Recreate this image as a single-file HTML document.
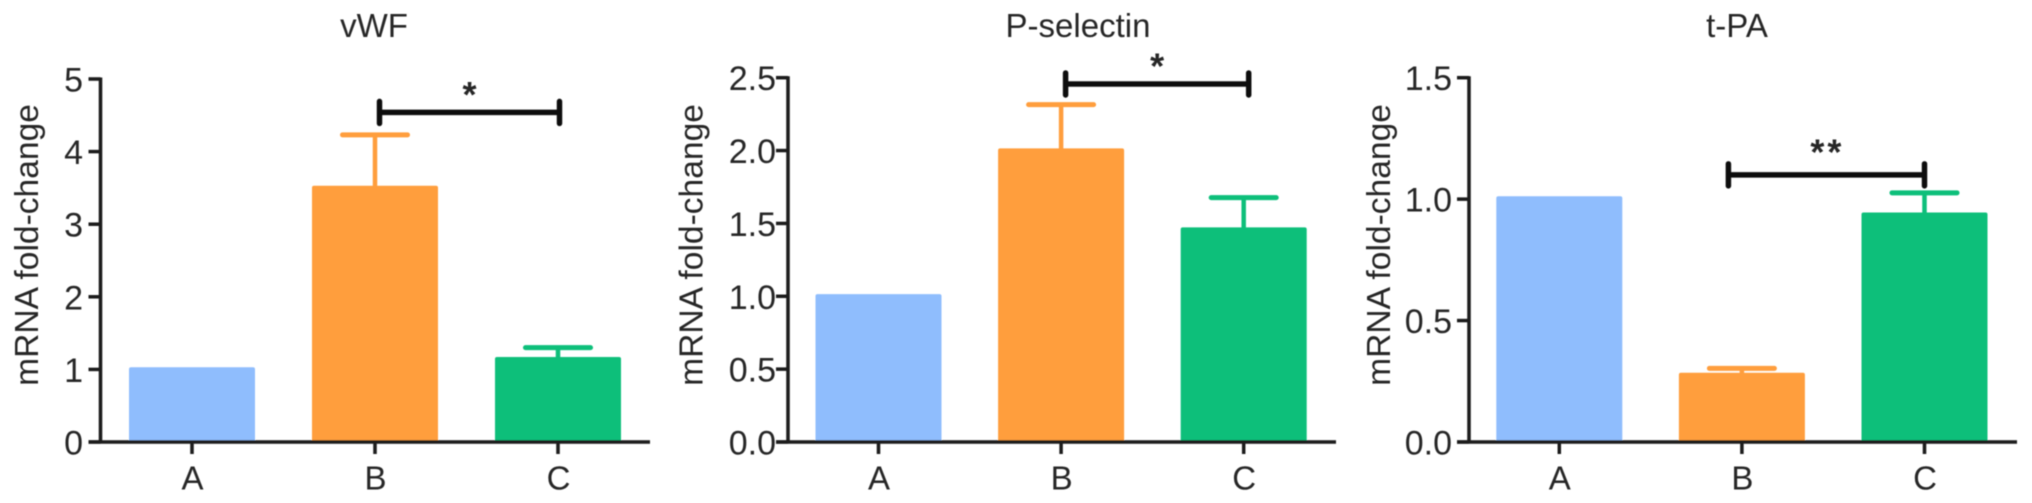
<!DOCTYPE html>
<html lang="en">
<head>
<meta charset="utf-8">
<title>mRNA fold-change: vWF, P-selectin, t-PA</title>
<style>
  html, body { margin: 0; padding: 0; background: #fff; }
  body { width: 2032px; height: 503px; overflow: hidden; }
  svg { display: block; }
  text { font-family: "Liberation Sans", Arial, sans-serif; fill: #262626; }
</style>
</head>
<body>
<svg id="chart" xmlns="http://www.w3.org/2000/svg" width="2032" height="503" viewBox="0 0 2032 503">
  <defs><filter id="soft" x="-5%" y="-5%" width="110%" height="110%"><feGaussianBlur stdDeviation="0.6"/></filter></defs>
  <g id="root" filter="url(#soft)"></g>
</svg>
<script>
// Chart data
const categories = ["A", "B", "C"];

const vwfValues = [1.03, 3.53, 1.17];
const vwfErrorTops = [null, 4.23, 1.30];
const vwfTicks = [0, 1, 2, 3, 4, 5];
const vwfTickLabels = ["0", "1", "2", "3", "4", "5"];
const vwfBracketLevel = 4.54;

const pselValues = [1.015, 2.015, 1.473];
const pselErrorTops = [null, 2.315, 1.677];
const pselTicks = [0, 0.5, 1, 1.5, 2, 2.5];
const pselTickLabels = ["0.0", "0.5", "1.0", "1.5", "2.0", "2.5"];
const pselBracketLevel = 2.457;

const tpaValues = [1.012, 0.285, 0.945];
const tpaErrorTops = [null, 0.303, 1.026];
const tpaTicks = [0, 0.5, 1, 1.5];
const tpaTickLabels = ["0.0", "0.5", "1.0", "1.5"];
const tpaBracketLevel = 1.10;

const barColors = ["#8FBDFD", "#FF9E3D", "#08BF7A"];

// Panel layout
const panels = [
  { id: "vwf", title: "vWF", titleX: 374, values: vwfValues, errs: vwfErrorTops, ticks: vwfTicks, labels: vwfTickLabels,
    level: vwfBracketLevel, stars: "*", axisX: 100.5, tickLabelX: 83, xEnd: 650, firstX: 192, step: 183, yTop: 79,
    titleAxisX: 38, brFrom: 4.5, brTo: 1.5, starGap: 5.5 },
  { id: "p-selectin", title: "P-selectin", titleX: 1078, values: pselValues, errs: pselErrorTops, ticks: pselTicks, labels: pselTickLabels,
    level: pselBracketLevel, stars: "*", axisX: 788, tickLabelX: 776, xEnd: 1336, firstX: 878.5, step: 182.6, yTop: 77.7,
    titleAxisX: 702.5, brFrom: 4.5, brTo: 5, starGap: 5.5 },
  { id: "t-pa", title: "t-PA", titleX: 1737, values: tpaValues, errs: tpaErrorTops, ticks: tpaTicks, labels: tpaTickLabels,
    level: tpaBracketLevel, stars: "**", axisX: 1469, tickLabelX: 1452, xEnd: 2017, firstX: 1559.3, step: 182.6, yTop: 77.7,
    titleAxisX: 1390, brFrom: -13.5, brTo: 0, starGap: 10.5 }
];

const Y_BASE = 442;
const BAR_W = 126;
const CAP_W = 65;
const AXIS_COLOR = "#1a1a1a";
const root = document.getElementById("root");
const NS = "http://www.w3.org/2000/svg";

function mk(tag, attrs, parent, text) {
  const el = document.createElementNS(NS, tag);
  for (const k in attrs) el.setAttribute(k, attrs[k]);
  if (text !== undefined) el.textContent = text;
  parent.appendChild(el);
  return el;
}

function line(parent, x1, y1, x2, y2, color, w, cap) {
  return mk("line", { x1: x1, y1: y1, x2: x2, y2: y2, stroke: color, "stroke-width": w, "stroke-linecap": cap || "butt" }, parent);
}

panels.forEach(function (p) {
  const yMax = p.ticks[p.ticks.length - 1];
  const yScale = function (v) { return Y_BASE - (v / yMax) * (Y_BASE - p.yTop); };
  const xScale = function (i) { return p.firstX + i * p.step; };

  const g = mk("g", {}, root);
  
  

  const title = mk("text", { x: p.titleX, y: 37, "text-anchor": "middle", "font-size": 33 }, g, p.title);
  
  

  const yTitle = mk("text", { transform: "translate(" + p.titleAxisX + ",245) rotate(-90)", "text-anchor": "middle", "font-size": 33.6 }, g, "mRNA fold-change");
  
  

  // Bars and error bars
  categories.forEach(function (c, i) {
    const cx = xScale(i);
    const top = yScale(p.values[i]);
    if (p.errs[i] !== null) {
      const errTop = yScale(p.errs[i]);
      const stem = line(g, cx, top + 2, cx, errTop, barColors[i], 4.5);
      
      
      const cap = line(g, cx - CAP_W / 2, errTop, cx + CAP_W / 2, errTop, barColors[i], 5, "round");
      
      
    }
    const bar = mk("rect", { x: cx - BAR_W / 2, y: top, width: BAR_W, height: Y_BASE - top, rx: 2, fill: barColors[i] }, g);
    
    
  });

  // Y axis
  const yAxis = line(g, p.axisX, yScale(yMax) - 1.5, p.axisX, Y_BASE + 1.5, AXIS_COLOR, 3.5);
  
  
  p.ticks.forEach(function (t, i) {
    const y = yScale(t);
    const tick = line(g, p.axisX - 12, y, p.axisX, y, AXIS_COLOR, 3.5);
    
    
    const lab = mk("text", { x: p.tickLabelX, y: y + 12.5, "text-anchor": "end", "font-size": 34 }, g, p.labels[i]);
    
    
  });

  // X axis
  const xAxis = line(g, p.axisX - 12, Y_BASE, p.xEnd, Y_BASE, AXIS_COLOR, 3.5);
  
  
  categories.forEach(function (c, i) {
    const cx = xScale(i);
    const tick = line(g, cx, Y_BASE, cx, 454, AXIS_COLOR, 3.5);
    
    
    const lab = mk("text", { x: cx + 0.5, y: 489.5, "text-anchor": "middle", "font-size": 33 }, g, c);
    
    
  });

  // Significance bracket between B and C
  const bx1 = xScale(1) + p.brFrom;
  const bx2 = xScale(2) + p.brTo;
  const by = yScale(p.level);
  const bracket = mk("g", {}, g);
  
  
  line(bracket, bx1, by, bx2, by, "#111", 5.5);
  line(bracket, bx1, by - 11, bx1, by + 11, "#111", 5.5, "round");
  line(bracket, bx2, by - 11, bx2, by + 11, "#111", 5.5, "round");
  const star = mk("text", { x: (bx1 + bx2) / 2 + (p.stars.length > 1 ? 1 : 0), y: by - p.starGap, "text-anchor": "middle", "font-size": 36, "font-weight": "bold", "letter-spacing": p.stars.length > 1 ? 3 : 0 }, g, p.stars);
  
  
});
</script>
</body>
</html>
